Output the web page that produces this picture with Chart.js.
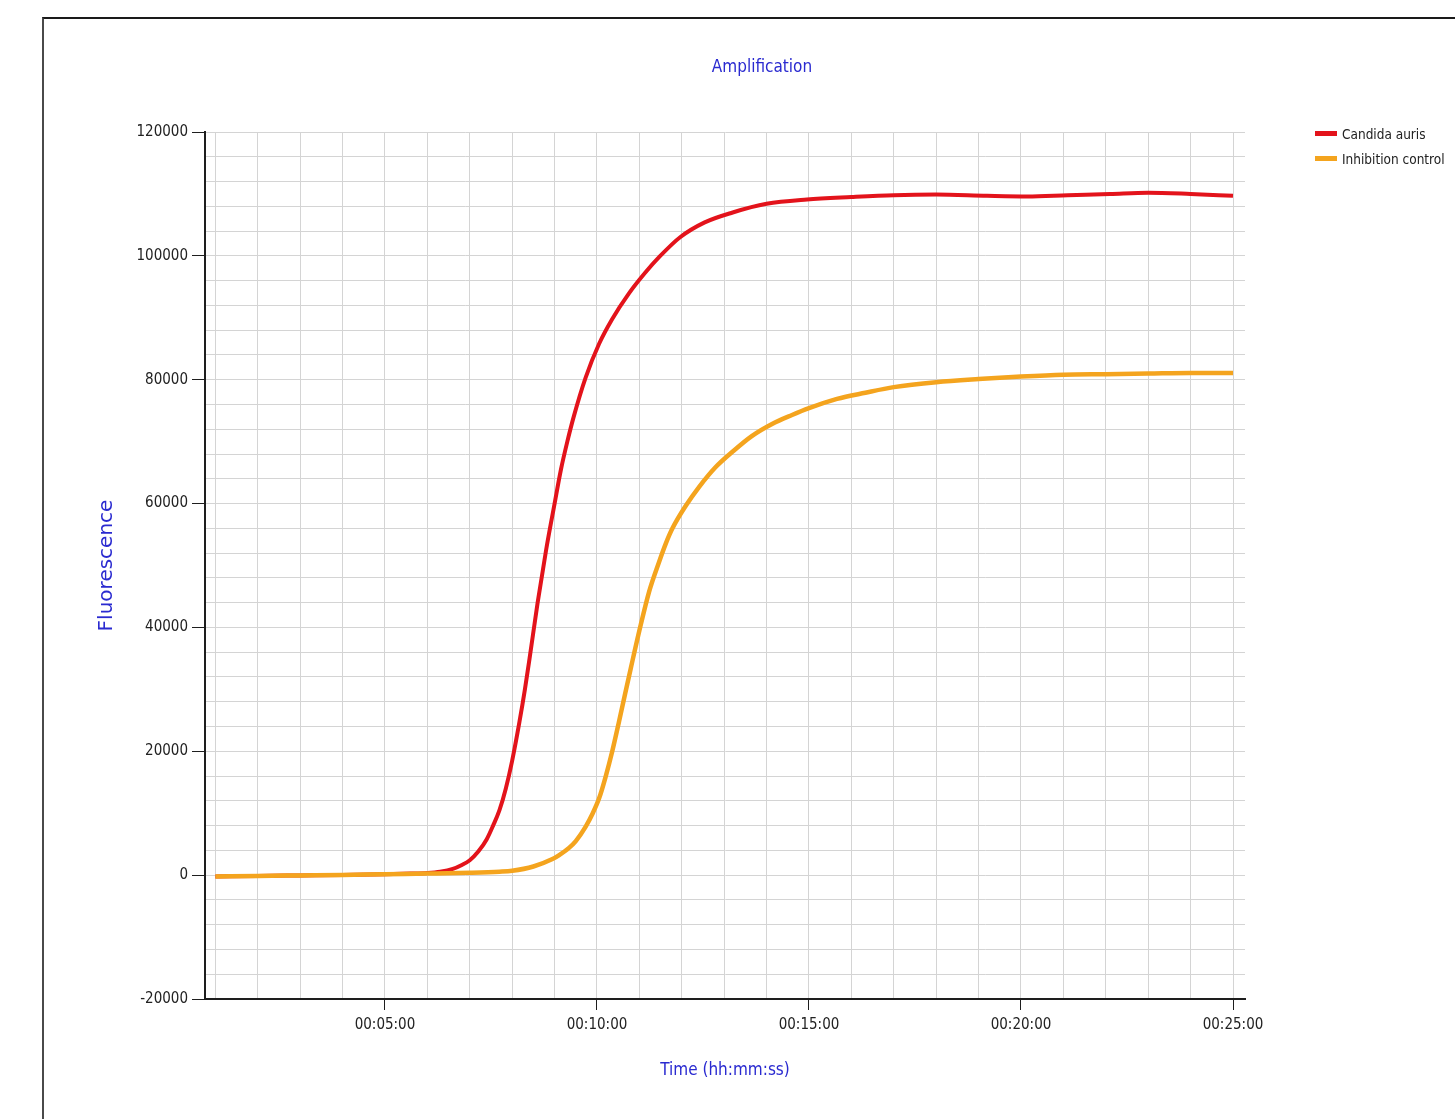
<!DOCTYPE html>
<html>
<head>
<meta charset="utf-8">
<title>Amplification</title>
<script src="https://cdn.jsdelivr.net/npm/chart.js@4.4.1/dist/chart.umd.min.js"></script>
<style>
    html, body {
        margin: 0;
        padding: 0;
        background: #fff;
        overflow: hidden;
    }
    #frame {
        position: absolute;
        left: 42px;
        top: 17px;
        width: 1436px;
        height: 1100px;
        border-top: 2px solid #1a1a1a;
        border-left: 2px solid #4a4a4a;
    }
    #legend {
        position: absolute;
        left: 1315px;
        top: 121px;
        font-family: 'Liberation Sans Narrow', 'Arial Narrow', 'DejaVu Sans Condensed', sans-serif;
        font-size: 13.5px;
        color: #222;
    }
    .legend-item {
        display: flex;
        align-items: center;
        height: 25px;
    }
    .swatch {
        width: 22px;
        height: 5px;
        margin-right: 5px;
    }
</style>
</head>
<body>
<div id="frame">
    <canvas id="ampChart"></canvas>
</div>
<div id="legend"></div>

<script>
// time in minutes, fluorescence in raw units
const candidaTimes = [1.0, 2.0, 3.0, 4.0, 5.0, 5.6, 6.0, 6.3, 6.6, 6.8, 7.0, 7.2, 7.4, 7.55, 7.7, 7.85, 8.0, 8.17, 8.3, 8.41, 8.6, 8.8, 9.0, 9.15, 9.3, 9.45, 9.73, 10.05, 10.36, 10.75, 11.14, 11.48, 11.96, 12.54, 13.2, 14.0, 14.95, 16.0, 17.0, 18.0, 19.2, 20.15, 21.1, 22.1, 23.0, 24.0, 25.0];
const candidaValues = [-200, -130, -50, 30, 150, 250, 350, 550, 1000, 1600, 2400, 3800, 5800, 8000, 10500, 14000, 18500, 24700, 30000, 35000, 44000, 52500, 60000, 65500, 70000, 74000, 80300, 85800, 89800, 93900, 97300, 99900, 103000, 105400, 107000, 108400, 109100, 109500, 109800, 109900, 109700, 109600, 109800, 110000, 110200, 110000, 109700];

const inhibitionTimes = [1.0, 2.0, 3.0, 4.0, 5.0, 6.0, 7.0, 7.7, 8.0, 8.5, 8.95, 9.1, 9.34, 9.5, 9.73, 9.9, 10.05, 10.2, 10.36, 10.52, 10.67, 10.8, 11.0, 11.23, 11.46, 11.62, 11.78, 12.09, 12.41, 12.8, 13.2, 13.65, 14.14, 14.6, 15.0, 15.66, 16.33, 17.0, 18.0, 19.0, 20.0, 21.0, 22.0, 23.0, 24.0, 25.0];
const inhibitionValues = [-200, -130, -50, 30, 150, 250, 380, 550, 700, 1400, 2600, 3200, 4400, 5500, 7800, 10000, 12400, 15800, 20000, 24800, 29500, 33500, 39500, 45800, 50500, 53500, 56000, 59600, 62700, 65900, 68400, 70900, 72900, 74300, 75400, 76900, 77900, 78800, 79600, 80100, 80500, 80800, 80900, 81000, 81100, 81100];

const xGridMinutes = [1, 2, 3, 4, 5, 6, 7, 8, 9, 10, 11, 12, 13, 14, 15, 16, 17, 18, 19, 20, 21, 22, 23, 24, 25];
const xLabelMinutes = [5, 10, 15, 20, 25];
const yLabelValues = [-20000, 0, 20000, 40000, 60000, 80000, 100000, 120000];

const narrowFont = "'Liberation Sans Narrow', 'Arial Narrow', 'DejaVu Sans Condensed', sans-serif";
const gridGrey = '#d4d4d4';
const axisBlack = '#1e1e1e';
const titleBlue = '#2a2ad0';

function toPoints(times, values) {
    return times.map((t, i) => ({ x: t, y: values[i] }));
}

function formatTime(minutes) {
    const hh = String(Math.floor(minutes / 60)).padStart(2, '0');
    const mm = String(minutes % 60).padStart(2, '0');
    return `${hh}:${mm}:00`;
}

const ctx = document.getElementById('ampChart').getContext('2d');

const chart = new Chart(ctx, {
    type: 'line',
    data: {
        datasets: [
            {
                label: 'Candida auris',
                data: toPoints(candidaTimes, candidaValues),
                borderColor: '#e3131b',
                borderWidth: 4,
                order: 2
            },
            {
                label: 'Inhibition control',
                data: toPoints(inhibitionTimes, inhibitionValues),
                borderColor: '#f4a41e',
                borderWidth: 4.5,
                order: 1
            }
        ]
    },
    options: {
        responsive: true,
        maintainAspectRatio: false,
        animation: false,
        layout: { padding: 0 },
        elements: {
            point: { radius: 0 },
            line: { cubicInterpolationMode: 'monotone', fill: false }
        },
        plugins: {
            legend: { display: false },
            tooltip: { enabled: false },
            title: {
                display: true,
                text: 'Amplification',
                color: titleBlue,
                font: { family: narrowFont, size: 17, weight: 'normal' },
                padding: { top: 38.8, bottom: 53.8 }
            }
        },
        scales: {
            x: {
                type: 'linear',
                min: 0.755,
                max: 25.283,
                afterBuildTicks: scale => {
                    scale.ticks = xGridMinutes.map(v => ({ value: v }));
                },
                afterFit: scale => { scale.height = 120; },
                grid: {
                    color: gridGrey,
                    lineWidth: 1,
                    tickLength: 11,
                    tickColor: c => xLabelMinutes.includes(c.tick && c.tick.value) ? axisBlack : 'rgba(0,0,0,0)'
                },
                border: { display: true, color: axisBlack, width: 2 },
                ticks: {
                    autoSkip: false,
                    maxRotation: 0,
                    padding: 6,
                    color: '#222',
                    font: { family: narrowFont, size: 15 },
                    callback: value => xLabelMinutes.includes(value) ? formatTime(value) : ''
                },
                title: {
                    display: true,
                    text: 'Time (hh:mm:ss)',
                    color: titleBlue,
                    font: { family: narrowFont, size: 17 },
                    padding: { top: 4, bottom: 37.8 }
                }
            },
            y: {
                type: 'linear',
                position: 'left',
                min: -20000,
                max: 120000,
                afterFit: scale => { scale.width = 161; },
                grid: {
                    color: gridGrey,
                    lineWidth: 1,
                    tickLength: 13,
                    tickColor: c => yLabelValues.includes(c.tick && c.tick.value) ? axisBlack : 'rgba(0,0,0,0)'
                },
                border: { display: true, color: axisBlack, width: 2 },
                ticks: {
                    stepSize: 4000,
                    autoSkip: false,
                    padding: 4,
                    color: '#222',
                    font: { family: narrowFont, size: 15 },
                    callback: value => yLabelValues.includes(value) ? String(value) : ''
                },
                title: {
                    display: true,
                    text: 'Fluorescence',
                    color: titleBlue,
                    font: { family: "'DejaVu Sans', Verdana, sans-serif", size: 20 },
                    padding: { top: 51, bottom: 4 }
                }
            },
            legendSpace: {
                type: 'linear',
                position: 'right',
                display: true,
                grid: { display: false },
                border: { display: false },
                ticks: { display: false },
                afterFit: scale => { scale.width = 235; }
            }
        }
    }
});

const legendDiv = document.getElementById('legend');
chart.data.datasets.forEach(ds => {
    legendDiv.innerHTML += `
        <div class="legend-item">
            <span class="swatch" style="background:${ds.borderColor}"></span>
            <span>${ds.label}</span>
        </div>
    `;
});
</script>
</body>
</html>
